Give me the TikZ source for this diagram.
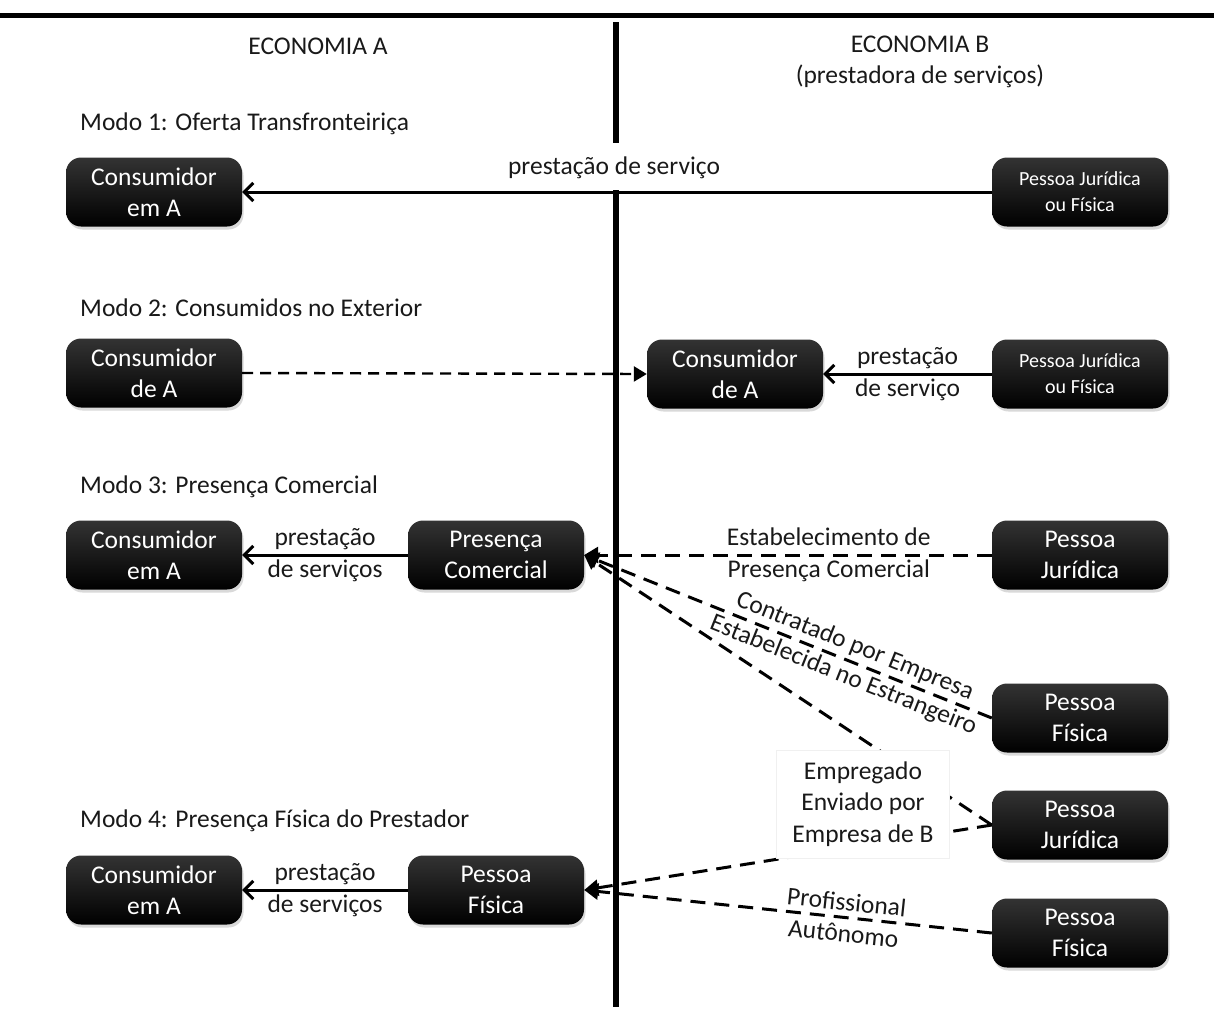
\documentclass[tikz,border=0pt]{standalone}
\usepackage{fontspec}
\setmainfont{Carlito}
\usetikzlibrary{arrows.meta,shadows}
\begin{document}
\begin{tikzpicture}[x=1pt,y=-1pt,
  font=\fontsize{25.5}{31.5}\selectfont,
  box/.style={rounded corners=15pt, minimum width=176pt, minimum height=69pt,
    top color=black!80, bottom color=black, text=white, align=center, inner sep=0pt,
    drop shadow={shadow xshift=1.5pt,shadow yshift=-3pt,opacity=0.3}},
  smallbox/.style={box, font=\fontsize{20}{26}\selectfont},
  lbl/.style={align=center, inner sep=1pt, text=black!90},
  solidarrow/.style={line width=3pt, -{Straight Barb[length=9pt,width=18pt,line width=3pt]}},
  dasharrow/.style={line width=3pt, dash pattern=on 15pt off 9pt, -{Triangle[length=14pt,width=16pt]}},
  thindash/.style={line width=2.4pt, dash pattern=on 11pt off 7pt, -{Triangle[length=13pt,width=15pt]}},
  modelbl/.style={anchor=west, inner sep=0pt, text=black!90},
  ]
\useasboundingbox (0,0) rectangle (1214,1026);

% frame lines
\draw[line width=5pt] (0,15) -- (1214,15);
\draw[line width=6pt] (616,22) -- (616,143);
\draw[line width=6pt] (616,190) -- (616,1007);

% headers
\node[lbl] (ea) at (318,46) {ECONOMIA A};
\node[lbl] (eb) at (920,62) {ECONOMIA B\\(prestadora de serviços)};

% mode labels
\node[modelbl] (md1) at (80,124) {Modo 1: Oferta Transfronteiriça};
\node[modelbl] (md2) at (80,308) {Modo 2: Consumidos no Exterior};
\node[modelbl] (md3) at (80,487) {Modo 3: Presença Comercial};
\node[modelbl] (md4) at (80,821) {Modo 4: Presença Física do Prestador};

% mode 1
\node[box] (c1) at (154,192) {Consumidor\\em A};
\node[smallbox] (p1) at (1080,192) {Pessoa Jurídica\\ou Física};
\node[lbl] (l1) at (614,168) {prestação de serviço};
\draw[solidarrow] (p1.west) -- (c1.east);

% mode 2
\node[box] (c2) at (154,373) {Consumidor\\de A};
\node[box] (c2r) at (735,374) {Consumidor\\de A};
\node[smallbox] (p2) at (1080,374) {Pessoa Jurídica\\ou Física};
\draw[thindash] (c2.east) -- (c2r.west);
\draw[solidarrow] (p2.west) -- node[lbl] (l2) {prestação\\de serviço} (c2r.east);

% mode 3
\node[box] (c3) at (154,555) {Consumidor\\em A};
\node[box] (pc) at (496,555) {Presença\\Comercial};
\node[box] (pj3) at (1080,555) {Pessoa\\Jurídica};
\node[box] (pf3) at (1080,718) {Pessoa\\Física};
\draw[solidarrow] (pc.west) -- node[lbl] (l3) {prestação\\de serviços} (c3.east);
\draw[dasharrow] (pj3.west) -- node[lbl, pos=0.4] (l3b) {Estabelecimento de\\Presença Comercial} (pc.east);
\draw[dasharrow] (pf3.west) -- node[lbl, sloped, pos=0.35] (l3c) {Contratado por Empresa\\Estabelecida no Estrangeiro} (pc.east);

% mode 4
\node[box] (c4) at (154,890) {Consumidor\\em A};
\node[box] (pf4) at (496,890) {Pessoa\\Física};
\node[box] (pj4r) at (1080,825) {Pessoa\\Jurídica};
\node[box] (pf4r) at (1080,933) {Pessoa\\Física};
\draw[solidarrow] (pf4.west) -- node[lbl] (l4) {prestação\\de serviços} (c4.east);
\draw[dasharrow] (pj4r.west) -- (pc.east);
\draw[dasharrow] (pj4r.west) -- (pf4.east);
\draw[dasharrow] (pf4r.west) -- node[lbl, sloped, pos=0.36] (l4b) {Profissional\\Autônomo} (pf4.east);
\node[lbl, fill=white, draw=black!6, minimum width=173pt, minimum height=108pt] (emp) at (863,804) {Empregado\\Enviado por\\Empresa de B};
\end{tikzpicture}
\end{document}
